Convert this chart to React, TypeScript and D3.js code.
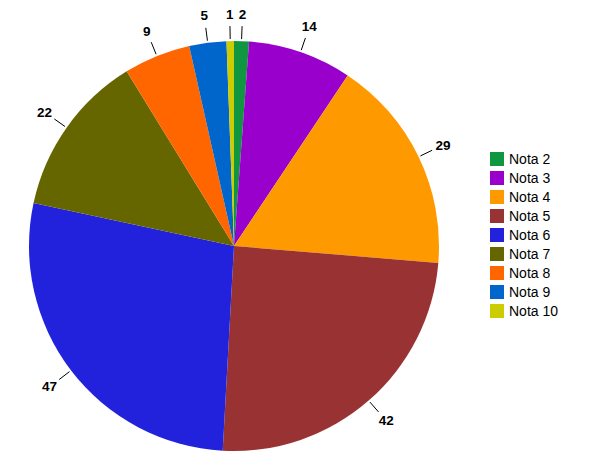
import React from "react";
import * as d3 from "d3";

const categories = ["Nota 2", "Nota 3", "Nota 4", "Nota 5", "Nota 6", "Nota 7", "Nota 8", "Nota 9", "Nota 10"];
const values = [2, 14, 29, 42, 47, 22, 9, 5, 1];
const colors = ["#109640", "#9900cc", "#ff9900", "#993333", "#2222dd", "#666600", "#ff6600", "#0066cc", "#cccc00"];

export default function App() {
  const W = 600, H = 463;
  const cx = 234, cy = 246, r = 205;
  const data = categories.map((c, i) => ({ c, v: values[i], color: colors[i] }));
  const pie = d3.pie<any>().value((d: any) => d.v).sort(null);
  const arcs = pie(data);
  const arc = d3.arc<any>().innerRadius(0).outerRadius(r);
  const pt = (a: number, rad: number) => [Math.sin(a) * rad, -Math.cos(a) * rad];
  return (
    <svg width={W} height={H} style={{ position: "absolute", left: 0, top: 0, fontFamily: "Liberation Sans, Arial, sans-serif" }}>
      <rect width={W} height={H} fill="#fff" />
      <g transform={`translate(${cx},${cy})`}>
        {arcs.map((a, i) => (
          <path key={i} d={arc(a) as string} fill={a.data.color} />
        ))}
        {arcs.map((a, i) => {
          const m = (a.startAngle + a.endAngle) / 2;
          const [x1, y1] = pt(m, r + 2);
          const [x2, y2] = pt(m, r + 15);
          const [tx, ty] = pt(m, r + 27);
          return (
            <g key={"l" + i}>
              <line x1={x1} y1={y1} x2={x2} y2={y2} stroke="#000" strokeWidth={1} />
              <text x={tx} y={ty} textAnchor="middle" dominantBaseline="central" fontSize={13.5} fontWeight="bold">{a.data.v}</text>
            </g>
          );
        })}
      </g>
      <g transform="translate(490,159)">
        {data.map((d, i) => (
          <g key={i} transform={`translate(0,${i * 19})`}>
            <rect x={0} y={-7} width={14} height={14} fill={d.color} />
            <text x={19} y={0} dominantBaseline="central" fontSize={14}>{d.c}</text>
          </g>
        ))}
      </g>
    </svg>
  );
}
